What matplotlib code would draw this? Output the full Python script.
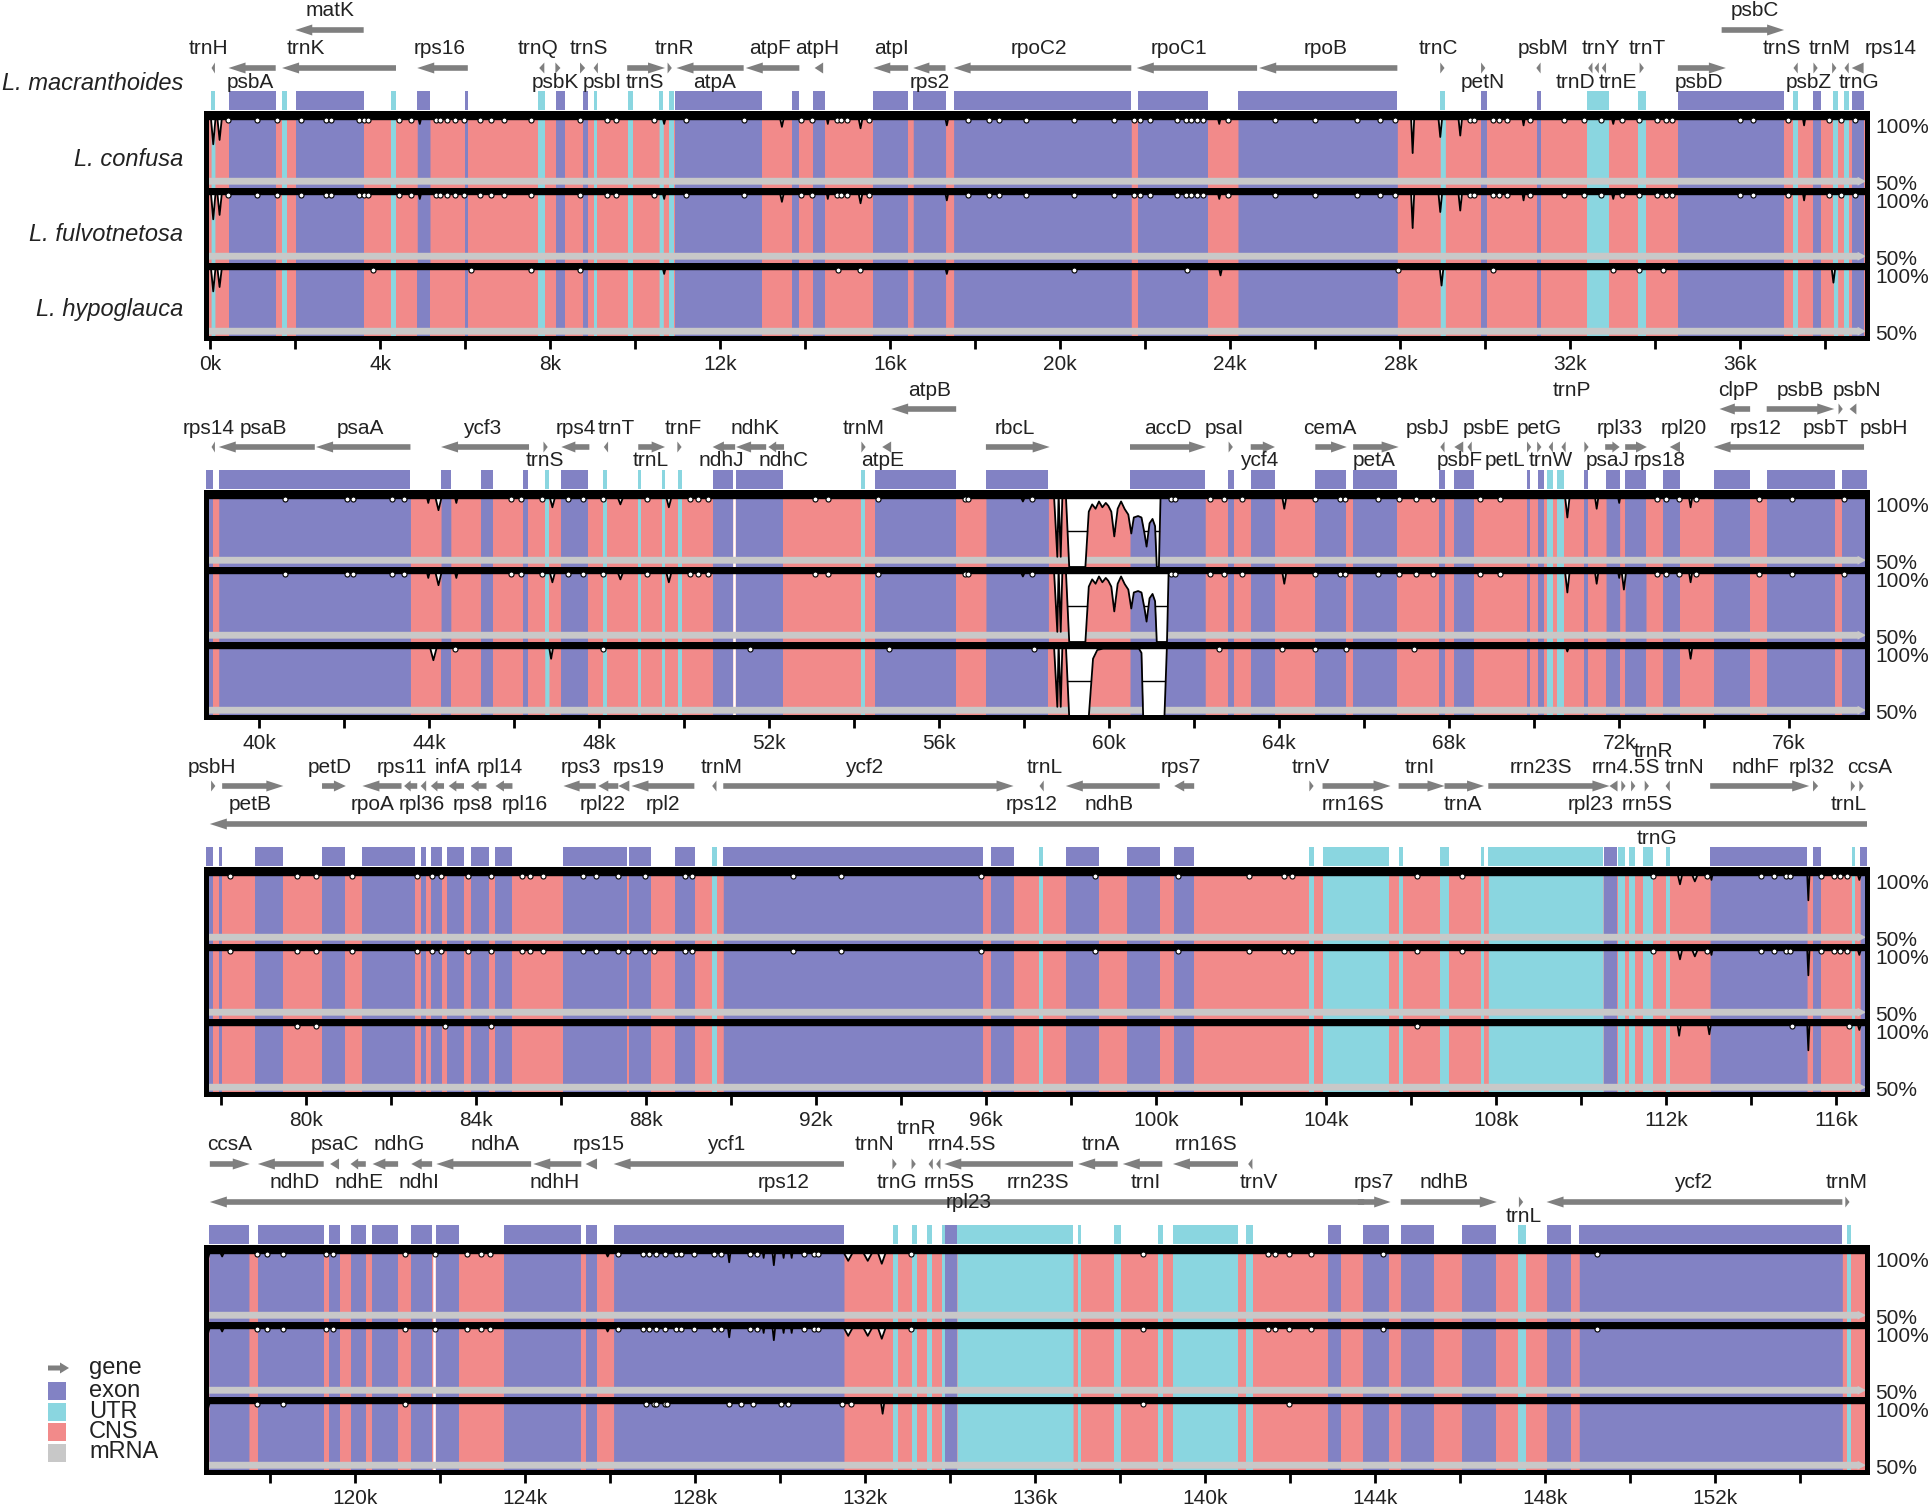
import numpy as np
import matplotlib
matplotlib.use("Agg")
import matplotlib.pyplot as plt
from matplotlib.patches import Polygon, Rectangle

plt.rcParams['font.family'] = ['Liberation Sans', 'DejaVu Sans']

# mVISTA colours
EXON = '#8282c4'
UTR = '#8ad6e0'
CNS = '#f28a8a'
MRNA = '#c8c8c8'
GENE = '#7f7f7f'
TXT = '#222222'

W, H = 1930, 1510

species = ['L. macranthoides', 'L. confusa', 'L. fulvotnetosa', 'L. hypoglauca']

# start of each row window (kb) and its width
panel_starts = [-0.1, 38.75, 77.65, 116.5]
window = 39.08

# annotated exons and UTRs (kb) of L. macranthoides
exons = [(0.43, 1.54), (2.01, 3.61), (4.87, 5.17), (5.99, 6.06), (8.13, 8.34), (8.76, 8.89),
         (10.93, 12.97), (13.69, 13.85), (14.18, 14.47), (15.60, 16.42), (16.54, 17.30),
         (17.49, 21.67), (21.82, 23.48), (24.18, 27.93), (29.90, 30.04), (31.22, 31.30),
         (34.53, 37.03), (37.70, 37.90), (38.62, 38.91),
         (39.05, 43.56), (44.28, 44.51), (45.22, 45.51), (46.21, 46.33), (47.11, 47.74),
         (50.67, 51.14), (51.22, 52.33), (54.50, 56.40), (57.10, 58.57), (60.49, 62.26),
         (62.80, 62.94), (63.33, 63.89), (64.85, 65.57), (65.74, 66.78), (67.75, 67.89),
         (68.12, 68.58), (69.83, 69.90), (70.08, 70.22), (71.16, 71.27), (71.69, 72.01),
         (72.14, 72.63), (73.02, 73.43), (74.22, 75.08), (75.47, 77.08), (77.24, 77.82),
         (77.95, 78.02), (78.81, 79.47), (80.38, 80.91), (81.33, 82.57), (82.70, 82.83),
         (82.94, 83.20), (83.33, 83.72), (83.88, 84.30), (84.44, 84.86), (86.06, 87.56),
         (87.61, 88.12), (88.68, 89.16), (89.82, 95.92), (96.13, 96.65), (97.88, 98.65),
         (99.31, 100.09), (100.43, 100.90), (110.55, 110.84), (113.04, 115.32), (115.45, 115.65),
         (116.57, 117.51), (117.72, 119.27), (119.40, 119.65), (119.90, 120.26), (120.40, 121.02),
         (121.33, 121.82), (121.92, 122.45), (123.52, 125.33), (125.43, 125.70), (126.09, 131.51),
         (133.89, 134.17), (142.90, 143.20), (143.73, 144.34), (144.61, 145.40), (146.06, 146.85),
         (148.04, 148.61), (148.81, 155.00)]

utrs = [(0.02, 0.11), (1.69, 1.80), (4.26, 4.37), (7.71, 7.87), (9.02, 9.11), (9.84, 9.95),
        (10.56, 10.66), (10.80, 10.90), (28.94, 29.06), (32.40, 32.92), (33.60, 33.78),
        (37.25, 37.35), (38.19, 38.29), (38.45, 38.55),
        (46.72, 46.82), (48.10, 48.19), (48.92, 48.98), (49.48, 49.55), (49.85, 49.95),
        (54.16, 54.26), (70.31, 70.44), (70.54, 70.69),
        (89.56, 89.67), (97.25, 97.35), (103.61, 103.72), (103.92, 105.49), (105.71, 105.81),
        (106.69, 106.89), (107.65, 107.72), (107.82, 110.52), (110.88, 111.04), (111.14, 111.27),
        (111.47, 111.69), (111.99, 112.09), (116.37, 116.45),
        (132.66, 132.77), (133.12, 133.22), (133.47, 133.58), (133.82, 133.89), (134.17, 136.90),
        (137.02, 137.08), (137.86, 138.02), (138.89, 139.02), (139.25, 140.78), (140.96, 141.14),
        (147.38, 147.55), (155.10, 155.20)]

# genes per row: name, start, end, strand, arrow level, label position (kb), label row
genes_1 = [
    ('trnH', 0.03, 0.11, -1, 2, -0.04, 'mid'), ('psbA', 0.43, 1.54, -1, 2, 0.94, 'lo'),
    ('trnK', 1.69, 4.37, -1, 2, 2.25, 'mid'), ('matK', 2.00, 3.61, -1, 1, 2.83, 'hi'),
    ('rps16', 4.87, 6.06, -1, 2, 5.40, 'mid'), ('trnQ', 7.74, 7.86, -1, 2, 7.71, 'mid'),
    ('psbK', 8.12, 8.24, 1, 2, 8.13, 'lo'), ('psbI', 8.70, 8.82, 1, 2, 9.23, 'lo'),
    ('trnS', 9.02, 9.12, -1, 2, 8.90, 'mid'), ('trnS', 9.81, 10.70, 1, 2, 10.23, 'lo'),
    ('trnR', 10.76, 10.86, 1, 2, 10.91, 'mid'), ('atpA', 10.97, 12.55, -1, 2, 11.87, 'lo'),
    ('atpF', 12.60, 13.86, -1, 2, 13.18, 'mid'), ('atpH', 14.22, 14.42, -1, 2, 14.29, 'mid'),
    ('atpI', 15.60, 16.42, -1, 2, 16.02, 'mid'), ('rps2', 16.54, 17.30, -1, 2, 16.94, 'lo'),
    ('rpoC2', 17.49, 21.67, -1, 2, 19.49, 'mid'), ('rpoC1', 21.80, 24.63, -1, 2, 22.79, 'mid'),
    ('rpoB', 24.68, 27.93, -1, 2, 26.25, 'mid'), ('trnC', 28.94, 29.04, 1, 2, 28.90, 'mid'),
    ('petN', 29.90, 30.00, 1, 2, 29.93, 'lo'), ('psbM', 31.20, 31.30, -1, 2, 31.35, 'mid'),
    ('trnD', 32.42, 32.52, -1, 2, 32.13, 'lo'), ('trnY', 32.57, 32.67, -1, 2, 32.72, 'mid'),
    ('trnE', 32.74, 32.84, -1, 2, 33.11, 'lo'), ('trnT', 33.63, 33.73, 1, 2, 33.80, 'mid'),
    ('psbD', 34.53, 35.66, 1, 2, 35.02, 'lo'), ('psbC', 35.56, 37.03, 1, 1, 36.35, 'hi'),
    ('trnS', 37.25, 37.35, -1, 2, 36.98, 'mid'), ('psbZ', 37.72, 37.82, 1, 2, 37.62, 'lo'),
    ('trnM', 38.16, 38.26, 1, 2, 38.10, 'mid'), ('trnG', 38.45, 38.55, -1, 2, 38.80, 'lo'),
    ('rps14', 38.62, 38.90, -1, 2, 39.53, 'mid'),
]
genes_2 = [
    ('rps14', 38.88, 38.96, -1, 2, 38.82, 'mid'), ('psaB', 39.05, 41.31, -1, 2, 40.10, 'mid'),
    ('psaA', 41.34, 43.56, -1, 2, 42.39, 'mid'), ('ycf3', 44.28, 46.35, -1, 2, 45.24, 'mid'),
    ('trnS', 46.69, 46.79, 1, 2, 46.72, 'lo'), ('rps4', 47.11, 47.77, -1, 2, 47.45, 'mid'),
    ('trnT', 48.11, 48.21, -1, 2, 48.40, 'mid'), ('trnL', 48.92, 49.55, 1, 2, 49.22, 'lo'),
    ('trnF', 49.84, 49.94, 1, 2, 49.97, 'mid'), ('ndhJ', 50.67, 51.20, -1, 2, 50.88, 'lo'),
    ('ndhK', 51.22, 51.93, -1, 2, 51.67, 'mid'), ('ndhC', 51.98, 52.35, -1, 2, 52.33, 'lo'),
    ('trnM', 54.17, 54.27, 1, 2, 54.22, 'mid'), ('atpE', 54.66, 54.87, -1, 2, 54.68, 'lo'),
    ('atpB', 54.87, 56.40, -1, 1, 55.77, 'hi'), ('rbcL', 57.10, 58.60, 1, 2, 57.79, 'mid'),
    ('accD', 60.49, 62.28, 1, 2, 61.39, 'mid'), ('psaI', 62.81, 62.91, 1, 2, 62.70, 'mid'),
    ('ycf4', 63.33, 63.90, 1, 2, 63.54, 'lo'), ('cemA', 64.85, 65.59, 1, 2, 65.20, 'mid'),
    ('petA', 65.74, 66.81, 1, 2, 66.23, 'lo'), ('psbJ', 67.79, 67.89, -1, 2, 67.50, 'mid'),
    ('psbF', 68.12, 68.33, -1, 2, 68.24, 'lo'), ('psbE', 68.43, 68.53, -1, 2, 68.87, 'mid'),
    ('petL', 69.83, 69.93, 1, 2, 69.31, 'lo'), ('petG', 70.07, 70.17, 1, 2, 70.12, 'mid'),
    ('trnW', 70.34, 70.44, -1, 2, 70.39, 'lo'), ('trnP', 70.64, 70.74, -1, 2, 70.88, 'hi'),
    ('psaJ', 71.18, 71.28, 1, 2, 71.72, 'lo'), ('rpl33', 71.67, 72.01, 1, 2, 72.01, 'mid'),
    ('rps18', 72.14, 72.65, 1, 2, 72.94, 'lo'), ('rpl20', 73.19, 73.43, -1, 2, 73.53, 'mid'),
    ('clpP', 74.36, 75.08, -1, 1, 74.80, 'hi'), ('rps12', 74.22, 77.76, -1, 2, 75.20, 'mid'),
    ('psbB', 75.47, 77.06, 1, 1, 76.27, 'hi'), ('psbT', 77.16, 77.26, 1, 1, 76.86, 'mid'),
    ('psbN', 77.42, 77.58, -1, 1, 77.60, 'hi'), ('psbH', 0, 0, 1, 2, 78.24, 'mid'),
]
genes_3 = [
    ('psbH', 77.77, 77.87, 1, 1, 77.79, 'hi'), ('petB', 78.03, 79.47, 1, 1, 78.68, 'mid'),
    ('petD', 80.38, 80.94, 1, 1, 80.57, 'hi'), ('rpoA', 81.33, 82.25, -1, 1, 81.57, 'mid'),
    ('rps11', 82.31, 82.62, -1, 1, 82.25, 'hi'), ('rpl36', 82.70, 82.83, -1, 1, 82.73, 'mid'),
    ('infA', 82.94, 83.25, -1, 1, 83.46, 'hi'), ('rps8', 83.36, 83.72, -1, 1, 83.93, 'mid'),
    ('rpl14', 83.88, 84.25, -1, 1, 84.56, 'hi'), ('rpl16', 84.46, 84.86, -1, 1, 85.14, 'mid'),
    ('rps3', 86.06, 86.82, -1, 1, 86.46, 'hi'), ('rpl22', 86.88, 87.35, -1, 1, 86.98, 'mid'),
    ('rps19', 87.35, 87.61, -1, 1, 87.82, 'hi'), ('rpl2', 87.66, 89.14, -1, 1, 88.40, 'mid'),
    ('trnM', 89.56, 89.66, -1, 1, 89.77, 'hi'), ('ycf2', 89.82, 96.65, 1, 1, 93.13, 'hi'),
    ('rps12', 0, 0, 1, 1, 97.07, 'mid'), ('trnL', 97.26, 97.36, -1, 1, 97.39, 'hi'),
    ('ndhB', 97.88, 100.09, -1, 1, 98.91, 'mid'), ('rps7', 100.43, 100.90, -1, 1, 100.59, 'hi'),
    ('trnV', 103.61, 103.71, 1, 1, 103.64, 'hi'), ('rrn16S', 103.92, 105.52, 1, 1, 104.64, 'mid'),
    ('trnI', 105.71, 106.79, 1, 1, 106.20, 'hi'), ('trnA', 106.79, 107.72, 1, 1, 107.23, 'mid'),
    ('rrn23S', 107.82, 110.67, 1, 1, 109.05, 'hi'), ('rpl23', 110.67, 110.86, -1, 1, 110.22, 'mid'),
    ('rrn4.5S', 110.95, 111.05, 1, 1, 111.06, 'hi'), ('rrn5S', 111.18, 111.28, 1, 1, 111.55, 'mid'),
    ('trnR', 111.50, 111.60, 1, 1, 111.70, 'top'), ('trnN', 111.99, 112.09, -1, 1, 112.43, 'hi'),
    ('ndhF', 113.04, 115.37, 1, 1, 114.10, 'hi'), ('rpl32', 115.46, 115.58, 1, 1, 115.42, 'hi'),
    ('trnL', 116.35, 116.45, 1, 1, 116.30, 'mid'), ('ccsA', 116.55, 116.65, 1, 1, 116.79, 'hi'),
    ('trnG', 77.74, 116.90, -1, 2, 111.79, 'lo'),
]
genes_4 = [
    ('ccsA', 116.59, 117.53, 1, 1, 117.06, 'hi'), ('ndhD', 117.72, 119.27, -1, 1, 118.58, 'mid'),
    ('psaC', 119.42, 119.63, -1, 1, 119.53, 'hi'), ('ndhE', 119.90, 120.26, -1, 1, 120.11, 'mid'),
    ('ndhG', 120.42, 121.02, -1, 1, 121.05, 'hi'), ('ndhI', 121.33, 121.82, -1, 1, 121.50, 'mid'),
    ('ndhA', 121.92, 124.15, -1, 1, 123.29, 'hi'), ('ndhH', 124.20, 125.33, -1, 1, 124.70, 'mid'),
    ('rps15', 125.43, 125.70, -1, 1, 125.73, 'hi'), ('ycf1', 126.09, 131.51, -1, 1, 128.73, 'hi'),
    ('rps12', 0, 0, 1, 1, 130.09, 'mid'), ('trnN', 132.65, 132.75, 1, 1, 132.24, 'hi'),
    ('trnG', 0, 0, 1, 1, 132.75, 'mid'), ('trnR', 133.10, 133.20, 1, 1, 133.22, 'top'),
    ('rrn5S', 133.50, 133.60, -1, 1, 133.98, 'mid'), ('rrn4.5S', 133.68, 133.78, -1, 1, 134.29, 'hi'),
    ('rrn23S', 133.87, 136.90, -1, 1, 136.08, 'mid'), ('rpl23', 0, 0, 1, 1, 134.45, 'line'),
    ('trnA', 137.02, 137.95, -1, 1, 137.55, 'hi'), ('trnI', 138.07, 139.00, -1, 1, 138.60, 'mid'),
    ('rrn16S', 139.25, 140.78, -1, 1, 140.02, 'hi'), ('trnV', 141.02, 141.12, -1, 1, 141.28, 'mid'),
    ('rps12', 116.59, 143.75, -1, 2, 0, None), ('rps7', 143.60, 144.37, 1, 2, 143.98, 'mid'),
    ('ndhB', 144.61, 146.87, 1, 2, 145.64, 'mid'), ('trnL', 147.39, 147.49, 1, 2, 147.50, 'lo'),
    ('ycf2', 148.04, 155.00, -1, 2, 151.48, 'mid'), ('trnM', 155.07, 155.17, 1, 2, 155.10, 'mid'),
]
gene_panels = [genes_1, genes_2, genes_3, genes_4]

# identity dips: centre (kb), half width (kb), lowest identity (%)
dips_shared = [
    (0.07, 0.06, 80), (0.22, 0.06, 83), (4.93, 0.05, 94), (10.68, 0.05, 94), (13.45, 0.06, 92),
    (14.53, 0.04, 94), (15.30, 0.06, 91), (17.33, 0.05, 93), (23.74, 0.05, 94), (28.29, 0.04, 74),
    (28.94, 0.05, 85), (29.41, 0.05, 86), (30.90, 0.04, 93), (33.01, 0.05, 94), (37.50, 0.04, 93),
    (43.98, 0.05, 94), (44.22, 0.09, 89), (44.64, 0.05, 94), (46.90, 0.08, 91), (48.50, 0.09, 93),
    (49.64, 0.08, 91), (57.97, 0.08, 95), (64.12, 0.06, 90), (70.78, 0.06, 84), (71.47, 0.05, 90),
    (72.00, 0.04, 94), (73.68, 0.05, 91),
    (112.33, 0.07, 91), (112.68, 0.10, 93), (113.07, 0.04, 94), (115.35, 0.03, 80), (116.55, 0.06, 94),
    (116.88, 0.08, 95), (125.95, 0.08, 95), (128.81, 0.04, 91), (129.62, 0.03, 94), (129.86, 0.04, 89),
    (130.09, 0.03, 94), (130.28, 0.03, 94), (131.61, 0.15, 92), (132.07, 0.15, 92), (132.40, 0.12, 90),
]
dips_fulv_extra = [(72.11, 0.06, 86)]
dips_hypo = [
    (0.07, 0.06, 82), (0.22, 0.06, 85), (10.68, 0.05, 94), (17.33, 0.05, 94), (23.77, 0.05, 93),
    (28.97, 0.05, 86), (38.19, 0.05, 88), (44.10, 0.10, 89), (46.87, 0.06, 90), (70.78, 0.06, 95),
    (73.68, 0.05, 90), (112.31, 0.05, 90), (113.02, 0.05, 91), (115.35, 0.03, 80), (116.55, 0.06, 94),
    (132.42, 0.05, 90),
]

# small single-point drops (kb)
dots_shared = [
    0.41, 1.09, 1.57, 2.14, 2.72, 2.83, 3.51, 3.61, 3.72, 4.43, 4.72, 5.30, 5.40, 5.56, 5.77, 5.98,
    6.35, 6.61, 6.92, 7.55, 8.71, 9.34, 9.55, 10.44, 11.19, 12.55, 13.90, 14.15, 14.74, 14.84, 14.97,
    15.49, 17.83, 18.33, 18.56, 19.19, 20.33, 21.27, 21.74, 21.88, 22.11, 22.74, 22.95, 23.08, 23.21,
    23.35, 23.95, 25.05, 26.00, 26.98, 27.52, 27.87, 29.63, 29.73, 30.17, 30.32, 30.52, 31.05, 31.84,
    32.33, 32.72, 33.21, 33.62, 34.04, 34.24, 34.39, 36.00, 36.30, 37.11, 38.09, 38.36, 38.70,
    40.62, 42.07, 42.20, 43.12, 43.41, 45.93, 46.17, 46.66, 47.26, 47.61, 48.08, 49.13, 50.13, 50.33,
    50.57, 53.07, 53.38, 54.56, 56.61, 56.68, 58.18, 61.45, 61.55, 62.38, 62.70, 63.12, 64.85, 65.44,
    65.54, 66.32, 66.81, 67.21, 67.63, 68.73, 69.20, 72.89, 73.09, 73.41, 73.80, 75.29, 76.06, 77.30,
    78.21, 79.79, 80.24, 81.08, 82.62, 82.97, 83.18, 83.81, 84.35, 85.09, 85.28, 85.59, 86.51, 86.82,
    87.35, 87.98, 88.92, 89.08, 91.45, 92.59, 95.88, 98.57, 100.51, 102.19, 103.01, 103.20, 106.15,
    107.21, 111.69, 112.97, 114.24, 114.54, 114.83, 114.93, 115.65, 115.96, 116.10, 116.25,
    117.69, 117.93, 118.32, 119.32, 119.48, 121.19, 121.89, 122.63, 122.97, 123.18, 126.20, 126.78,
    126.93, 127.09, 127.30, 127.56, 127.67, 127.99, 128.46, 128.62, 129.30, 129.46, 130.56, 130.81,
    130.91, 133.08, 138.55, 141.49, 141.65, 141.98, 142.49, 144.20, 149.22,
]
dots_fulv_extra = [87.59, 88.19]
dots_hypo = [
    3.82, 6.14, 7.55, 8.71, 14.76, 15.28, 20.33, 22.98, 27.94, 30.17, 33.01, 33.62, 34.17, 44.61,
    48.08, 51.56, 54.82, 58.23, 62.59, 64.06, 64.85, 65.57, 67.18, 79.79, 80.24, 83.28, 84.35,
    106.15, 114.96, 116.30, 117.69, 118.32, 121.19, 126.86, 127.04, 127.09, 127.31, 127.35, 128.81,
    129.09, 129.36, 130.04, 130.20, 131.46, 131.67, 138.55, 141.98,
]

# rbcL-accD spacer, traced identity profile for each species
prof_conf_x = [58.70, 58.78, 58.81, 58.86, 58.90, 58.98, 59.06, 59.44, 59.52, 59.60, 59.68, 59.76,
               59.84, 59.92, 59.98, 60.05, 60.12, 60.20, 60.28, 60.36, 60.45, 60.52, 60.58, 60.68,
               60.76, 60.82, 60.88, 60.95, 61.02, 61.08, 61.12, 61.17, 61.21]
prof_conf_y = [100, 57, 100, 57, 100, 100, 50, 50, 88, 93, 90, 95, 91, 94, 92, 88, 71, 90, 95, 90,
               86, 73, 84, 85, 84, 75, 64, 80, 83, 78, 50, 50, 100]
prof_fulv_x = prof_conf_x[:30] + [61.12, 61.36, 61.40]
prof_fulv_y = prof_conf_y[:30] + [50, 50, 100]
prof_hypo_x = [58.70, 58.78, 58.81, 58.86, 58.90, 58.98, 59.06, 59.52, 59.62, 59.72, 59.85, 60.70,
               60.76, 60.80, 61.30, 61.36]
prof_hypo_y = [100, 57, 100, 57, 100, 100, 50, 50, 90, 96, 97, 97, 94, 50, 50, 100]

# alignment gaps shown as white lines
gaps = [51.17, 121.86]

tracks = [
    (dips_shared, dots_shared, prof_conf_x, prof_conf_y),
    (dips_shared + dips_fulv_extra, dots_shared + dots_fulv_extra, prof_fulv_x, prof_fulv_y),
    (dips_hypo, dots_hypo, prof_hypo_x, prof_hypo_y),
]

# layout in pixels
box_left, box_right = 206, 1867
panel_tops = [113, 492, 869, 1247]
track_h = 75
ann_h = 125
arrow_y = {1: 83, 2: 45}
label_y = {'top': 118, 'hi': 102, 'mid': 64, 'lo': 31, 'line': 44}


def fx(px):
    return px / W


def fy(py):
    return 1 - py / H


def draw_gene(ax, s, e, strand, y):
    L = e - s
    if L <= 0:
        return
    if L < 0.3:
        if strand > 0:
            pts = [(s, y + 5.5), (e, y), (s, y - 5.5)]
        else:
            pts = [(e, y + 5.5), (s, y), (e, y - 5.5)]
    else:
        hl = min(0.4, L * 0.5)
        if strand > 0:
            pts = [(s, y + 2.8), (e - hl, y + 2.8), (e - hl, y + 5.5), (e, y),
                   (e - hl, y - 5.5), (e - hl, y - 2.8), (s, y - 2.8)]
        else:
            pts = [(e, y + 2.8), (s + hl, y + 2.8), (s + hl, y + 5.5), (s, y),
                   (s + hl, y - 5.5), (s + hl, y - 2.8), (e, y - 2.8)]
    ax.add_patch(Polygon(pts, closed=True, fc=GENE, ec='none'))


def identity(x, dips, px, py):
    y = np.full(x.shape, 100.0)
    for c, w, v in dips:
        d = np.abs(x - c)
        m = d < w
        y[m] = np.minimum(y[m], v + (100 - v) * d[m] / w)
    m = (x >= px[0]) & (x <= px[-1])
    y[m] = np.interp(x[m], px, py)
    return y


def fill_seg(ax, x, y, s, e, color):
    inner = (x > s) & (x < e)
    xs = np.concatenate(([s], x[inner], [e]))
    ys = np.interp(xs, x, y)
    ax.fill_between(xs, 50, ys, color=color, lw=0, zorder=2)


fig = plt.figure(figsize=(W / 100, H / 100), dpi=100)

for p, p0 in enumerate(panel_starts):
    p1 = p0 + window
    top = panel_tops[p]

    # gene arrows and exon bar
    ann = fig.add_axes([fx(box_left), fy(top), fx(box_right - box_left), ann_h / H])
    ann.set_xlim(p0, p1)
    ann.set_ylim(0, ann_h)
    ann.axis('off')
    for segs, col in ((exons, EXON), (utrs, UTR)):
        for s, e in segs:
            if e > p0 and s < p1:
                ann.add_patch(Rectangle((s, 3), e - s, 19, fc=col, ec='none'))
    for name, s, e, strand, level, lx, lrow in gene_panels[p]:
        draw_gene(ann, s, e, strand, arrow_y[level])
        if lrow:
            ann.text(lx, label_y[lrow], name, ha='center', va='center', fontsize=15,
                     color=TXT, clip_on=False)

    # three identity tracks
    x = np.arange(p0, p1 + 0.005, 0.005)
    for i, (dips, dots, px, py) in enumerate(tracks):
        ax = fig.add_axes([fx(box_left), fy(top + track_h * (i + 1)),
                           fx(box_right - box_left), track_h / H])
        ax.set_xlim(p0, p1)
        ax.set_ylim(50, 101.5)
        ax.axis('off')
        y = identity(x, dips, px, py)
        ax.axhline(75, color='k', lw=1, zorder=1)
        ax.fill_between(x, 50, y, color=CNS, lw=0, zorder=1.5)
        for segs, col in ((exons, EXON), (utrs, UTR)):
            for s, e in segs:
                if e > p0 and s < p1:
                    fill_seg(ax, x, y, s, e, col)
        g = [v for v in gaps if p0 < v < p1]
        if g:
            ax.vlines(g, 50, 97.2, color='white', lw=1.8, zorder=2.5)
        band = [(p0, 52.3), (p1 - 0.22, 52.3), (p1 - 0.22, 51.6), (p1 - 0.02, 54.65),
                (p1 - 0.22, 57.7), (p1 - 0.22, 57.0), (p0, 57.0)]
        ax.add_patch(Polygon(band, closed=True, fc=MRNA, ec='none', zorder=3))
        low = y < 58
        ax.fill_between(x, y, 58, where=low, color='white', lw=0, zorder=3.2)
        ax.plot(x, y, color='k', lw=1.3, zorder=4)
        ax.axhspan(97.2, 101.5, color='k', zorder=5)
        dd = [d for d in dots if p0 < d < p1]
        ax.scatter(dd, np.full(len(dd), 96.8), s=13, facecolor='white', edgecolor='k',
                   linewidths=0.8, zorder=6)
        ax.text(1.005, 0.81, '100%', transform=ax.transAxes, ha='left', va='center',
                fontsize=15, color=TXT)
        ax.text(1.005, 0.05, '50%', transform=ax.transAxes, ha='left', va='center',
                fontsize=15, color=TXT)

    # outer frame with the kb axis
    fr = fig.add_axes([fx(box_left), fy(top + 3 * track_h), fx(box_right - box_left),
                       3 * track_h / H])
    fr.set_xlim(p0, p1)
    fr.set_ylim(0, 1)
    fr.patch.set_visible(False)
    for sp in fr.spines.values():
        sp.set_linewidth(3.6)
    fr.set_yticks([])
    major = np.arange(np.ceil(p0 / 4) * 4, p1, 4)
    minor = np.arange(np.ceil(p0 / 2) * 2, p1, 2)
    fr.set_xticks(major)
    fr.set_xticklabels([f'{int(t)}k' for t in major])
    fr.set_xticks(minor, minor=True)
    fr.tick_params(axis='x', which='both', length=8, width=2, labelsize=15, pad=4,
                   labelcolor=TXT)

# species names
fig.text(fx(183), fy(84), species[0], ha='right', va='center', style='italic', fontsize=17,
         color=TXT)
for i, name in enumerate(species[1:]):
    fig.text(fx(183), fy(panel_tops[0] + track_h * i + track_h / 2 + 9), name, ha='right',
             va='center', style='italic', fontsize=17, color=TXT)

# legend
lg = fig.add_axes([fx(40), fy(1470), fx(160), 115 / H])
lg.set_xlim(0, 160)
lg.set_ylim(1470, 1355)
lg.axis('off')
lg.add_patch(Polygon([(8, 1365.5), (20, 1365.5), (20, 1362.5), (29, 1368), (20, 1373.5),
                      (20, 1370.5), (8, 1370.5)], closed=True, fc=GENE, ec='none'))
legend_items = [('exon', EXON), ('UTR', UTR), ('CNS', CNS), ('mRNA', MRNA)]
for k, (name, col) in enumerate(legend_items):
    yc = 1391 + 20.5 * k
    lg.add_patch(Rectangle((8, yc - 9), 18, 18, fc=col, ec='none'))
    lg.text(49, yc, name, ha='left', va='center', fontsize=17, color=TXT)
lg.text(49, 1368, 'gene', ha='left', va='center', fontsize=17, color=TXT)

fig.savefig('out.png', dpi=100)
